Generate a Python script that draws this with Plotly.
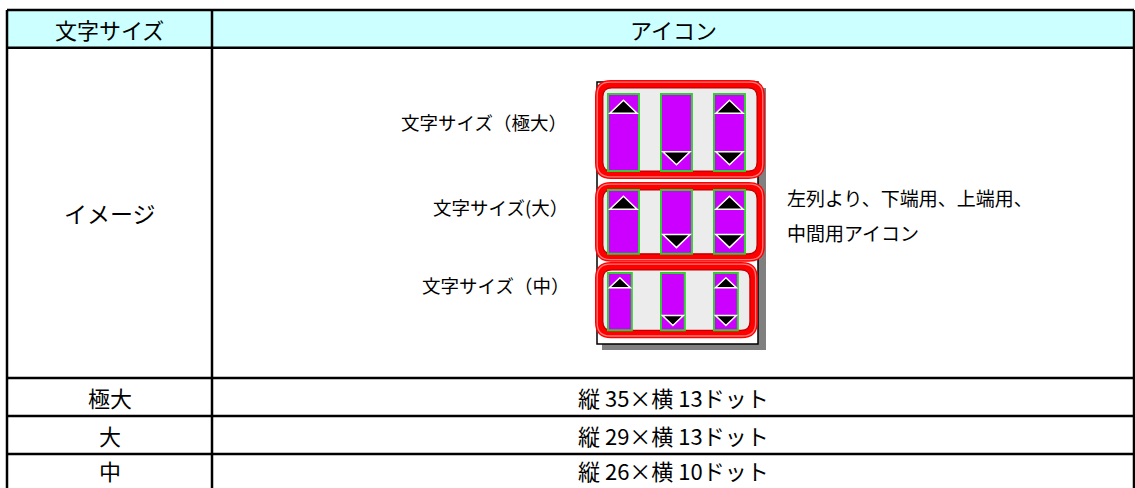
import plotly.graph_objects as go

# ---------------- data ----------------
header_labels = ["文字サイズ", "アイコン"]
image_row_label = "イメージ"
size_labels = ["極大", "大", "中"]
dot_heights = [35, 29, 26]
dot_widths = [13, 13, 10]
image_labels = ["文字サイズ（極大）", "文字サイズ(大）", "文字サイズ（中）"]
note_lines = ["左列より、下端用、上端用、", "中間用アイコン"]
icon_arrows = [["up"], ["down"], ["up", "down"]]  # 下端用, 上端用, 中間用

# ---------------- layout constants ----------------
W, H = 1135, 488
X_L, X_M, X_R = 7, 212, 1134
ROW_Y = [10, 47.7, 378, 416, 454, 492]
ROW_TEXT_Y = [397, 435, 470]
LINE_W = 2.5
FONT = "Noto Sans CJK JP, Noto Sans CJK SC, sans-serif"

PANEL_LEFT = 595
PANEL_TOP = [80, 182, 262]
BAR_TOP = [94, 190, 273]
BAR_X0 = 608
BAR_PITCH = 53
PX_PER_DOT_H = 2.2
PX_PER_DOT_W = 2.38
LABEL_CX = [484, 500, 495]
LABEL_Y = [122, 207, 285]

shapes = []
annotations = []

# header fill
shapes.append(dict(type="rect", x0=X_L, x1=X_R, y0=ROW_Y[0], y1=ROW_Y[1],
                   fillcolor="#ccffff", line=dict(width=0), layer="below"))

# icon window background (shadow + frame)
shapes.append(dict(type="rect", x0=602, x1=766, y0=88, y1=350,
                   fillcolor="#808080", line=dict(width=0)))
shapes.append(dict(type="rect", x0=597, x1=758, y0=82, y1=344,
                   fillcolor="#ffffff", line=dict(color="#000000", width=1.5)))


def rrect(x0, y0, x1, y1, r):
    return (f"M {x0+r},{y0} L {x1-r},{y0} Q {x1},{y0} {x1},{y0+r} "
            f"L {x1},{y1-r} Q {x1},{y1} {x1-r},{y1} L {x0+r},{y1} "
            f"Q {x0},{y1} {x0},{y1-r} L {x0},{y0+r} Q {x0},{y0} {x0+r},{y0} Z")


for i in range(len(size_labels)):
    bh = dot_heights[i] * PX_PER_DOT_H
    bw = dot_widths[i] * PX_PER_DOT_W
    top = BAR_TOP[i]
    bottom = top + bh
    p_x0 = PANEL_LEFT
    p_x1 = BAR_X0 + 2 * BAR_PITCH + bw + 20
    p_y0 = PANEL_TOP[i]
    p_y1 = bottom + 8
    # red rounded frame
    shapes.append(dict(type="path", path=rrect(p_x0 + 4, p_y0 + 4, p_x1 - 4, p_y1 - 4, 12),
                       fillcolor="#ececec", line=dict(color="#ff0000", width=8)))
    shapes.append(dict(type="path", path=rrect(p_x0 + 7.8, p_y0 + 7.8, p_x1 - 7.8, p_y1 - 7.8, 9),
                       fillcolor="rgba(0,0,0,0)", line=dict(color="#c00000", width=1.3)))
    shapes.append(dict(type="path", path=rrect(p_x0 + 2.2, p_y0 + 2.2, p_x1 - 2.2, p_y1 - 2.2, 13),
                       fillcolor="rgba(0,0,0,0)", line=dict(color="#ff7a7a", width=1.3)))
    for j, arrows in enumerate(icon_arrows):
        bx0 = BAR_X0 + j * BAR_PITCH
        bx1 = bx0 + bw
        shapes.append(dict(type="rect", x0=bx0, x1=bx1, y0=top, y1=bottom,
                           fillcolor="#cc00ff", line=dict(color="#33cc33", width=2)))
        cx = (bx0 + bx1) / 2
        hw = 0.44 * bw
        th = 0.42 * bw
        off = 0.2 * bw
        for a in arrows:
            if a == "up":
                apex = top + off
                base = apex + th
            else:
                apex = bottom - off
                base = apex - th
            shapes.append(dict(type="path",
                               path=f"M {cx-hw},{base} L {cx+hw},{base} L {cx},{apex} Z",
                               fillcolor="#000000", line=dict(color="#ffffff", width=1.5)))
    annotations.append(dict(x=LABEL_CX[i], y=LABEL_Y[i], text=image_labels[i],
                            showarrow=False, xanchor="center", yanchor="middle",
                            font=dict(family=FONT, size=18.5, color="#000000")))

# table lines
for y in ROW_Y:
    shapes.append(dict(type="line", x0=X_L, x1=X_R, y0=y, y1=y,
                       line=dict(color="#000000", width=LINE_W)))
for x in (X_L, X_M, X_R):
    shapes.append(dict(type="line", x0=x, x1=x, y0=ROW_Y[0], y1=ROW_Y[-1],
                       line=dict(color="#000000", width=LINE_W)))

col1_c = (X_L + X_M) / 2
col2_c = (X_M + X_R) / 2

# header text
annotations.append(dict(x=col1_c, y=(ROW_Y[0] + ROW_Y[1]) / 2, text=header_labels[0],
                        showarrow=False, font=dict(family=FONT, size=22, color="#000")))
annotations.append(dict(x=col2_c, y=(ROW_Y[0] + ROW_Y[1]) / 2, text=header_labels[1],
                        showarrow=False, font=dict(family=FONT, size=22, color="#000")))
annotations.append(dict(x=col1_c, y=(ROW_Y[1] + ROW_Y[2]) / 2, text=image_row_label,
                        showarrow=False, font=dict(family=FONT, size=23, color="#000")))

# note text
for k, line in enumerate(note_lines):
    annotations.append(dict(x=785, y=197 + 35 * k, text=line, showarrow=False,
                            xanchor="left", yanchor="middle",
                            font=dict(family=FONT, size=19, color="#000")))

# size rows
for i, lab in enumerate(size_labels):
    yc = ROW_TEXT_Y[i]
    annotations.append(dict(x=col1_c, y=yc, text=lab, showarrow=False,
                            font=dict(family=FONT, size=22, color="#000")))
    annotations.append(dict(x=col2_c, y=yc, text=f"縦 {dot_heights[i]}×横 {dot_widths[i]}ドット",
                            showarrow=False,
                            font=dict(family="Liberation Sans Narrow, " + FONT, size=22, color="#000")))

fig = go.Figure()
fig.update_layout(
    width=W, height=H,
    margin=dict(l=0, r=0, t=0, b=0),
    paper_bgcolor="#ffffff", plot_bgcolor="#ffffff",
    xaxis=dict(range=[0, W], visible=False, fixedrange=True),
    yaxis=dict(range=[H, 0], visible=False, fixedrange=True),
    shapes=shapes, annotations=annotations, showlegend=False,
)
fig.write_html("out.html",
               config={"displayModeBar": False, "staticPlot": True},
               post_script="document.body.style.margin='0px';document.body.style.overflow='hidden';")
